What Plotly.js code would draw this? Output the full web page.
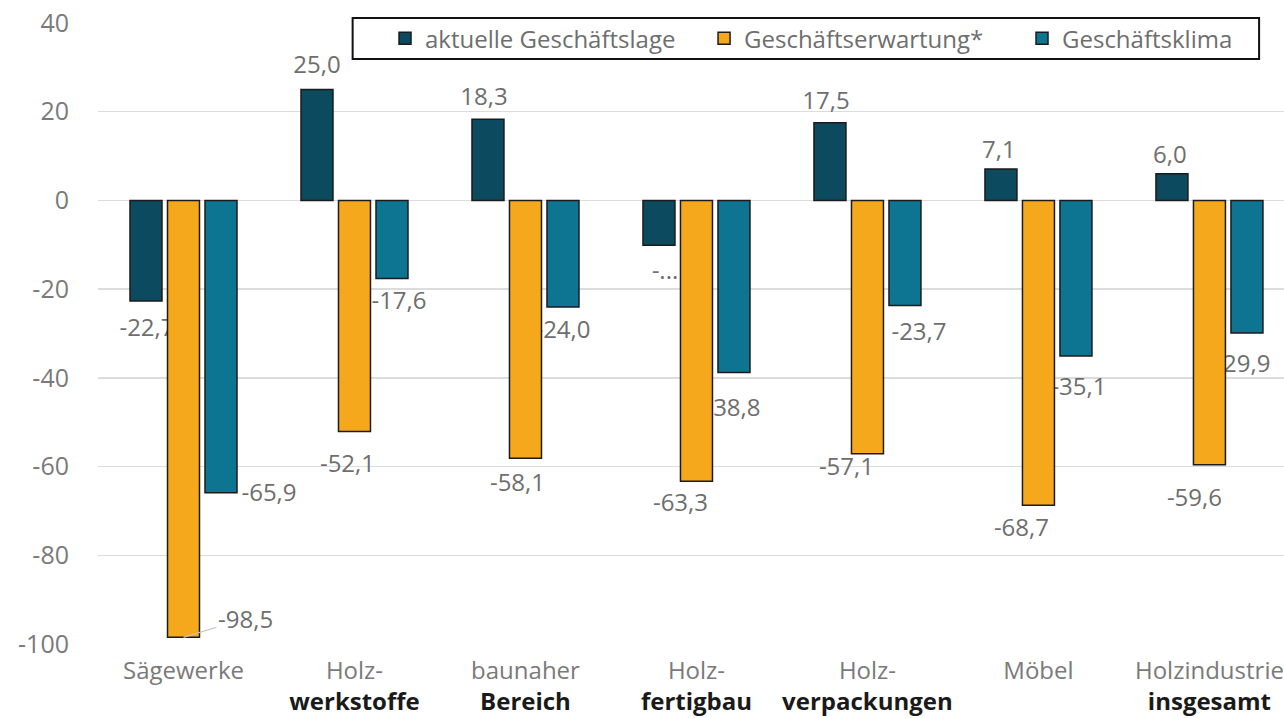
<!DOCTYPE html>
<html>
<head>
<meta charset="utf-8">
<script src="https://cdn.plot.ly/plotly-3.0.1.min.js"></script>
<style>
  html, body { margin: 0; padding: 0; background: #ffffff; }
  #chart { width: 1284px; height: 718px; }
</style>
</head>
<body>
<div id="chart"></div>
<script>
// Branchen (two-line tick labels: grey first line, bold black second line)
const categoryTop = ['Sägewerke', 'Holz-', 'baunaher', 'Holz-', 'Holz-', 'Möbel', 'Holzindustrie'];
const categoryBottom = ['', 'werkstoffe', 'Bereich', 'fertigbau', 'verpackungen', '', 'insgesamt'];

const seriesNames = ['aktuelle Geschäftslage', 'Geschäftserwartung*', 'Geschäftsklima'];
const aktuelleLage = [-22.7, 25.0, 18.3, -10.1, 17.5, 7.1, 6.0];
const erwartung = [-98.5, -52.1, -58.1, -63.3, -57.1, -68.7, -59.6];
const klima = [-65.9, -17.6, -24.0, -38.8, -23.7, -35.1, -29.9];

const yTickValues = [40, 20, 0, -20, -40, -60, -80, -100];

// ---- styling / layout configuration ----
const W = 1284, H = 718;
const M = { l: 98, r: 0, t: 23, b: 74 };
const X_RANGE = [-0.5, 6.436];
const Y_RANGE = [-100, 40];
const BARGAP = 0.342, BARGROUPGAP = 0.147;
const colors = ['#0c4a5f', '#f5a81c', '#0d7491'];
const FONT = 'Open Sans, Liberation Sans, sans-serif';
const GREY = '#6e6e6e';
const LABEL_SIZE = 24;

// one legend box per series, so each entry sits at its own x
const legendX = [0.2420, 0.5110, 0.7791];
const legendY = 0.975;

// label offsets in pixels from the end of each bar [dx, dy (down)]
const labelNudge = [
  [[1, 29], [0, -23], [-4, -20], [6, 28], [-4, -20], [-2, -17], [-2, -17]],
  [[62, -19], [-7, 34], [-8, 27], [-16, 24], [-21, 15], [-17, 25], [-15, 35]],
  [[48, 2], [7, 24], [0, 25], [-1, 37], [14, 28], [3, 33], [-4, 33]]
];
// labels that are shown cut short
const ellipsisLabels = [[0, 3]];
// label drawn with a leader line instead of plain text
const leaderLabels = [[1, 0]];

const series = [aktuelleLage, erwartung, klima];
const idx = categoryTop.map((_, i) => i);
const fmt = v => v.toFixed(1).replace('.', ',');
const has = (list, s, i) => list.some(p => p[0] === s && p[1] === i);

const pxPerX = (W - M.l - M.r) / (X_RANGE[1] - X_RANGE[0]);
const pxPerY = (H - M.t - M.b) / (Y_RANGE[1] - Y_RANGE[0]);
const slot = (1 - BARGAP) / 3;
const slotOffset = [-slot, 0, slot];

const tickText = idx.map(i => categoryBottom[i]
  ? categoryTop[i] + '<br><span style="color:#1a1a1a"><b>' + categoryBottom[i] + '</b></span>'
  : categoryTop[i]);

const traces = [];

// value labels: drawn in the base subplot so the bars sit on top of them
series.forEach((vals, s) => {
  const xs = [], ys = [], ts = [];
  vals.forEach((v, i) => {
    if (has(leaderLabels, s, i)) return;
    const [dx, dy] = labelNudge[s][i];
    xs.push(i + slotOffset[s] + dx / pxPerX);
    ys.push(v - dy / pxPerY);
    ts.push(has(ellipsisLabels, s, i) ? '-...' : fmt(v));
  });
  traces.push({
    type: 'scatter', mode: 'text', x: xs, y: ys, text: ts,
    textposition: 'middle center',
    textfont: { family: FONT, size: LABEL_SIZE, color: GREY },
    showlegend: false, hoverinfo: 'skip', xaxis: 'x', yaxis: 'y', cliponaxis: false
  });
});

// bars in an overlaid subplot
const legendIds = ['legend', 'legend2', 'legend3'];
series.forEach((vals, s) => {
  traces.push({
    type: 'bar', name: seriesNames[s], x: idx, y: vals,
    marker: { color: colors[s], line: { color: '#1b1b1b', width: 1.5 } },
    xaxis: 'x2', yaxis: 'y2', hoverinfo: 'skip', legend: legendIds[s]
  });
});

const annotations = leaderLabels.map(([s, i]) => {
  const [dx, dy] = labelNudge[s][i];
  return {
    xref: 'x', yref: 'y', x: i + slotOffset[s], y: series[s][i],
    text: fmt(series[s][i]), showarrow: true, arrowhead: 0,
    arrowwidth: 1.2, arrowcolor: '#c4c4c4', ax: dx, ay: dy,
    font: { family: FONT, size: LABEL_SIZE, color: GREY }
  };
});

const legendStyle = x => ({
  orientation: 'h', x: x, xanchor: 'left', y: legendY, yanchor: 'middle',
  font: { family: FONT, size: 24, color: GREY },
  bgcolor: 'rgba(0,0,0,0)', borderwidth: 0, itemclick: false
});

const layout = {
  width: W, height: H,
  margin: M,
  paper_bgcolor: '#ffffff', plot_bgcolor: '#ffffff',
  font: { family: FONT, color: GREY },
  barmode: 'group', bargap: BARGAP, bargroupgap: BARGROUPGAP,
  showlegend: true,
  legend: legendStyle(legendX[0]),
  legend2: legendStyle(legendX[1]),
  legend3: legendStyle(legendX[2]),
  xaxis: {
    type: 'linear', range: X_RANGE, tickvals: idx, ticktext: tickText,
    showgrid: false, zeroline: false, showline: false, ticks: '',
    tickfont: { family: FONT, size: 24, color: '#7a7a7a' },
    ticklabelstandoff: 10, fixedrange: true
  },
  yaxis: {
    range: Y_RANGE, tickvals: yTickValues, ticktext: yTickValues.map(String),
    showgrid: true, gridcolor: '#dcdcdc', gridwidth: 1.5,
    zeroline: true, zerolinecolor: '#dcdcdc', zerolinewidth: 1.5,
    showline: false, ticks: '',
    tickfont: { family: FONT, size: 25, color: '#7a7a7a' },
    ticklabelstandoff: 28, fixedrange: true
  },
  xaxis2: { type: 'linear', overlaying: 'x', matches: 'x', range: X_RANGE, visible: false, fixedrange: true },
  yaxis2: { overlaying: 'y', matches: 'y', range: Y_RANGE, visible: false, fixedrange: true },
  shapes: [{
    type: 'rect', xref: 'paper', yref: 'paper',
    x0: 0.2147, x1: 0.9790, y0: 0.942, y1: 1.008,
    line: { color: '#111111', width: 2 }, fillcolor: 'rgba(0,0,0,0)'
  }],
  annotations: annotations
};

Plotly.newPlot('chart', traces, layout, { displayModeBar: false, staticPlot: true });
</script>
</body>
</html>
